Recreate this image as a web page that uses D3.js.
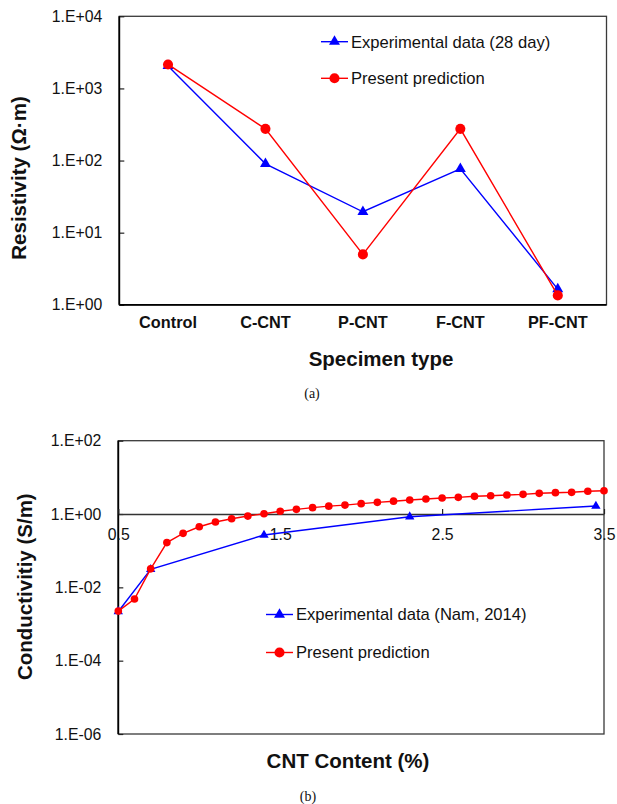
<!DOCTYPE html>
<html>
<head>
<meta charset="utf-8">
<script src="https://cdn.jsdelivr.net/npm/d3@7"></script>
<style>
body { margin: 0; background: #fff; }
</style>
</head>
<body>
<script>
// (a) resistivity per specimen type
var specimen_types = ["Control", "C-CNT", "P-CNT", "F-CNT", "PF-CNT"] ;
var resistivity_exp = [2050, 90, 19.5, 77, 1.65] ;
var resistivity_pred = [2150, 275, 5.0, 275, 1.35] ;
var resistivity_ticks = [1, 10, 100, 1000, 10000] ;

// (b) conductivity vs CNT content
var content_pred = [0.5, 0.6, 0.7, 0.8, 0.9, 1.0, 1.1, 1.2, 1.3, 1.4, 1.5, 1.6, 1.7, 1.8, 1.9, 2.0,
		    2.1, 2.2, 2.3, 2.4, 2.5, 2.6, 2.7, 2.8, 2.9, 3.0, 3.1, 3.2, 3.3, 3.4, 3.5] ;
var conductivity_pred = [0.00225, 0.0048, 0.032, 0.166, 0.297, 0.45, 0.605, 0.745, 0.88, 1.02, 1.19,
			 1.34, 1.49, 1.64, 1.75, 1.92, 2.08, 2.24, 2.41, 2.57, 2.73, 2.85, 3.04, 3.16,
			 3.30, 3.44, 3.67, 3.82, 3.91, 4.17, 4.32] ;
var content_exp = [0.5, 0.7, 1.4, 2.3, 3.45] ;
var conductivity_exp = [0.0022, 0.031, 0.267, 0.845, 1.65] ;
var conductivity_ticks = [1e-6, 1e-4, 1e-2, 1, 100] ;
var content_ticks = [0.5, 1.5, 2.5, 3.5] ;

var BLUE = "#0000ff", RED = "#ff0000" ;
var SANS = "'Liberation Sans', Arial, sans-serif" ;
var SERIF = "'Liberation Serif', 'Times New Roman', serif" ;

function exp_label(v)
{
    var e = Math.round(Math.log10(v)) ;
    var a = Math.abs(e) ;
    return "1.E" + (e < 0 ? "-" : "+") + (a < 10 ? "0" : "") + a ;
}

var svg = d3.select("body").append("svg")
    .attr("width", 617)
    .attr("height", 804)
    .attr("font-family", SANS) ;

function draw_legend(g, x, y, label, symbol, msize, color)
{
    g.append("line")
	.attr("x1", x).attr("x2", x+27)
	.attr("y1", y).attr("y2", y)
	.attr("stroke", color)
	.attr("stroke-width", 1.4) ;
    g.append("path")
	.attr("d", d3.symbol().type(symbol).size(msize)())
	.attr("transform", "translate(" + (x+13.5) + "," + y + ")")
	.attr("fill", color) ;
    g.append("text")
	.attr("x", x+30)
	.attr("y", y)
	.attr("dy", "0.35em")
	.attr("font-size", "16.6px")
	.attr("fill", "#111")
	.text(label) ;
}

function draw_series(g, pts, color, symbol, msize)
{
    g.append("path")
	.datum(pts)
	.attr("fill", "none")
	.attr("stroke", color)
	.attr("stroke-width", 1.4)
	.attr("d", d3.line().x(function(d){ return d[0]; }).y(function(d){ return d[1]; })) ;

    g.selectAll(null)
	.data(pts)
	.enter().append("path")
	.attr("d", d3.symbol().type(symbol).size(msize)())
	.attr("transform", function(d){ return "translate(" + d[0] + "," + d[1] + ")"; })
	.attr("fill", color) ;
}

//--------------------------- chart (a) ---------------------------
function chart_a()
{
    var L = 119.3, R = 606.5, T = 16.3, B = 304.8 ;
    var g = svg.append("g") ;

    var x = d3.scaleBand().domain(specimen_types).range([L, R]).padding(0) ;
    var y = d3.scaleLog().domain([1, 10000]).range([B, T]) ;
    var cx = function(c){ return x(c) + x.bandwidth()/2; } ;

    g.append("rect")
	.attr("x", L).attr("y", T)
	.attr("width", R-L).attr("height", B-T)
	.attr("fill", "none")
	.attr("stroke", "#3a3a3a")
	.attr("stroke-width", 1.3) ;

    var yAxis = g.append("g")
	.attr("transform", "translate(" + L + ",0)")
	.call(d3.axisLeft(y).tickValues(resistivity_ticks).tickFormat(exp_label)
	      .tickSizeInner(-5).tickSizeOuter(0).tickPadding(17)) ;
    yAxis.select(".domain").remove() ;
    yAxis.selectAll("line").attr("stroke", "#222").attr("stroke-width", 1.2) ;
    yAxis.selectAll("text").attr("font-size", "15.8px").attr("font-family", SANS).attr("fill", "#111") ;

    var xAxis = g.append("g")
	.attr("transform", "translate(0," + B + ")")
	.call(d3.axisBottom(x).tickSize(0).tickPadding(12)) ;
    xAxis.select(".domain").remove() ;
    xAxis.selectAll("text").attr("font-size", "16.3px").attr("font-weight", "bold")
	.attr("font-family", SANS).attr("fill", "#111") ;

    // heavier left and bottom axis lines
    g.append("line").attr("x1", L).attr("x2", L).attr("y1", T).attr("y2", B)
	.attr("stroke", "#000").attr("stroke-width", 1.8) ;
    g.append("line").attr("x1", L).attr("x2", R).attr("y1", B).attr("y2", B)
	.attr("stroke", "#000").attr("stroke-width", 1.8) ;

    var exp_pts = specimen_types.map(function(c, i){ return [cx(c), y(resistivity_exp[i])]; }) ;
    var pred_pts = specimen_types.map(function(c, i){ return [cx(c), y(resistivity_pred[i])]; }) ;
    draw_series(g, exp_pts, BLUE, d3.symbolTriangle, 52) ;
    draw_series(g, pred_pts, RED, d3.symbolCircle, 80) ;

    draw_legend(g, 321, 41.7, "Experimental data (28 day)", d3.symbolTriangle, 52, BLUE) ;
    draw_legend(g, 321, 78.3, "Present prediction", d3.symbolCircle, 80, RED) ;

    g.append("text")
	.attr("transform", "translate(18.5,178) rotate(-90)")
	.attr("text-anchor", "middle")
	.attr("dy", "0.35em")
	.attr("font-size", "20.5px")
	.attr("font-weight", "bold")
	.attr("fill", "#111")
	.text("Resistivity (\u03A9\u00B7m)") ;

    g.append("text")
	.attr("x", 381).attr("y", 359.3)
	.attr("text-anchor", "middle")
	.attr("dy", "0.35em")
	.attr("font-size", "20.5px")
	.attr("font-weight", "bold")
	.attr("fill", "#111")
	.text("Specimen type") ;

    g.append("text")
	.attr("x", 312).attr("y", 393)
	.attr("text-anchor", "middle")
	.attr("dy", "0.35em")
	.attr("font-family", SERIF)
	.attr("font-size", "14px")
	.attr("fill", "#111")
	.text("(a)") ;
}

//--------------------------- chart (b) ---------------------------
function chart_b()
{
    var L = 118.3, R = 604, T = 440.7, B = 734 ;
    var g = svg.append("g") ;

    var x = d3.scaleLinear().domain([0.5, 3.5]).range([L, R]) ;
    var y = d3.scaleLog().domain([1e-6, 100]).range([B, T]) ;

    g.append("rect")
	.attr("x", L).attr("y", T)
	.attr("width", R-L).attr("height", B-T)
	.attr("fill", "none")
	.attr("stroke", "#3a3a3a")
	.attr("stroke-width", 1.3) ;

    var yAxis = g.append("g")
	.attr("transform", "translate(" + L + ",0)")
	.call(d3.axisLeft(y).tickValues(conductivity_ticks).tickFormat(exp_label)
	      .tickSizeInner(-5).tickSizeOuter(0).tickPadding(17)) ;
    yAxis.select(".domain").remove() ;
    yAxis.selectAll("line").attr("stroke", "#222").attr("stroke-width", 1.2) ;
    yAxis.selectAll("text").attr("font-size", "15.8px").attr("font-family", SANS).attr("fill", "#111") ;

    g.append("line").attr("x1", L).attr("x2", L).attr("y1", T).attr("y2", B)
	.attr("stroke", "#000").attr("stroke-width", 1.8) ;

    // category axis crosses at 1.E+00
    var xAxis = g.append("g")
	.attr("transform", "translate(0," + y(1) + ")")
	.call(d3.axisBottom(x).tickValues(content_ticks).tickFormat(d3.format(".1f"))
	      .tickSizeInner(-5).tickSizeOuter(0).tickPadding(15)) ;
    xAxis.select(".domain").attr("stroke", "#333").attr("stroke-width", 1.5) ;
    xAxis.selectAll("line").attr("stroke", "#222").attr("stroke-width", 1.2) ;
    xAxis.selectAll("text").attr("font-size", "15.8px").attr("font-family", SANS).attr("fill", "#111") ;

    var exp_pts = content_exp.map(function(c, i){ return [x(c), y(conductivity_exp[i])]; }) ;
    var pred_pts = content_pred.map(function(c, i){ return [x(c), y(conductivity_pred[i])]; }) ;
    draw_series(g, exp_pts, BLUE, d3.symbolTriangle, 38) ;
    draw_series(g, pred_pts, RED, d3.symbolCircle, 46) ;

    draw_legend(g, 266, 614.5, "Experimental data (Nam, 2014)", d3.symbolTriangle, 52, BLUE) ;
    draw_legend(g, 266, 652.5, "Present prediction", d3.symbolCircle, 80, RED) ;

    g.append("text")
	.attr("transform", "translate(25,586.7) rotate(-90)")
	.attr("text-anchor", "middle")
	.attr("dy", "0.35em")
	.attr("font-size", "20.5px")
	.attr("font-weight", "bold")
	.attr("fill", "#111")
	.text("Conductivitiy (S/m)") ;

    g.append("text")
	.attr("x", 348).attr("y", 761)
	.attr("text-anchor", "middle")
	.attr("dy", "0.35em")
	.attr("font-size", "20.5px")
	.attr("font-weight", "bold")
	.attr("fill", "#111")
	.text("CNT Content (%)") ;

    g.append("text")
	.attr("x", 308).attr("y", 796)
	.attr("text-anchor", "middle")
	.attr("dy", "0.35em")
	.attr("font-family", SERIF)
	.attr("font-size", "14px")
	.attr("fill", "#111")
	.text("(b)") ;
}

chart_a() ;
chart_b() ;
</script>
</body>
</html>
